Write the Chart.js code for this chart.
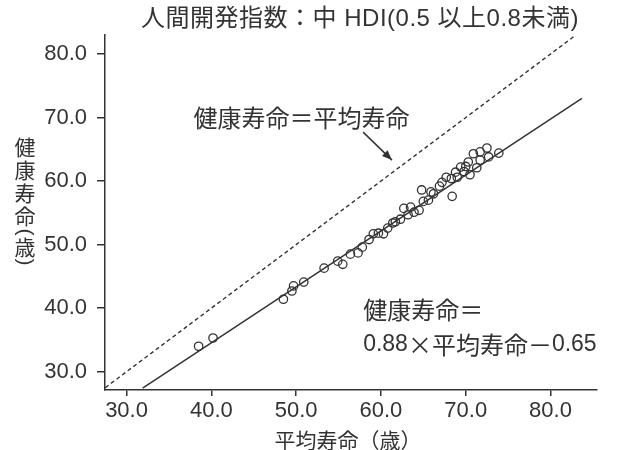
<!DOCTYPE html>
<html>
<head>
<meta charset="utf-8">
<script src="https://cdn.jsdelivr.net/npm/chart.js@4.4.0/dist/chart.umd.min.js"></script>
<style>
  html, body { margin: 0; padding: 0; background: #fff; }
  #wrap { width: 622px; height: 450px; }
</style>
</head>
<body>
<div id="wrap"><canvas id="c" width="622" height="450"></canvas></div>
<script>
// Countries with medium HDI: average life expectancy vs healthy life expectancy (years)
const lifeExpectancy = [
  38.5, 40.2, 48.5, 49.5, 49.7, 50.9, 53.3, 54.9, 55.5, 56.4,
  57.3, 57.8, 59.1, 59.7, 60.3, 61.4, 61.7, 62.7, 63.2, 63.5,
  63.9, 64.5, 64.8, 65.6, 65.9, 66.9, 67.7, 68.4, 68.8, 69.4,
  70.3, 70.5, 70.9, 71.3, 71.7, 71.7, 72.5, 72.7, 73.9, 67.2,
  68.3, 69.0, 69.8, 70.0, 66.2, 65.0, 62.3, 60.8, 58.6
];
const healthyLifeExpectancy = [
  34.0, 35.3, 41.4, 42.7, 43.5, 44.1, 46.3, 47.4, 46.9, 48.5,
  48.7, 49.6, 51.7, 51.8, 51.7, 53.4, 53.6, 55.7, 54.7, 55.9,
  55.1, 55.4, 58.6, 57.0, 58.3, 59.2, 60.6, 57.6, 61.4, 62.2,
  63.0, 61.0, 64.3, 62.1, 64.6, 63.3, 65.2, 63.8, 64.4, 59.8,
  60.4, 60.6, 61.5, 62.3, 58.0, 56.8, 54.0, 52.6, 50.8
];

const xTicks = [30, 40, 50, 60, 70, 80];
const yTicks = [30, 40, 50, 60, 70, 80];

// Regression: healthy = 0.88 × average − 0.65
const fitSlope = 0.88;
const fitIntercept = -0.65;
const fitRange = [31.9, 83.7];
// Reference line: healthy = average
const identityRange = [27.5, 83.0];

const titleText = '人間開発指数：中 HDI(0.5 以上0.8未満)';
const xTitle = '平均寿命（歳）';
const yTitleWord = ['健', '康', '寿', '命'];
const yTitleUnit = '歳';
const identityLabel = '健康寿命＝平均寿命';
const fitLabelLine1 = '健康寿命＝';

const INK = '#333333';
const LATIN = '"Liberation Sans", "Noto Sans CJK JP", sans-serif';
const CJK = '"Noto Sans CJK JP", sans-serif';

const scatterData = lifeExpectancy.map((x, i) => ({ x, y: healthyLifeExpectancy[i] }));
const fitData = fitRange.map(x => ({ x, y: fitSlope * x + fitIntercept }));
const identityData = identityRange.map(x => ({ x, y: x }));

function drawRuns(ctx, runs, x, y) {
  let cx = x;
  runs.forEach(r => {
    ctx.font = r.f;
    ctx.fillText(r.t, cx, y);
    cx += ctx.measureText(r.t).width;
  });
}

// a parenthesis turned sideways for vertical text
function drawTurned(ctx, ch, x, y) {
  ctx.save();
  ctx.translate(x, y);
  ctx.rotate(Math.PI / 2);
  ctx.fillText(ch, 0, 0);
  ctx.restore();
}

const textPlugin = {
  id: 'texts',
  afterDraw(chart) {
    const ctx = chart.ctx;
    const xs = chart.scales.x, ys = chart.scales.y;
    const area = chart.chartArea;
    ctx.save();
    ctx.fillStyle = INK;
    ctx.strokeStyle = INK;

    // title
    ctx.font = '24px ' + LATIN;
    ctx.letterSpacing = '0.5px';
    ctx.textAlign = 'center';
    ctx.textBaseline = 'middle';
    ctx.fillText(titleText, 360, 19);
    ctx.letterSpacing = '0px';

    // x axis title
    ctx.font = '21px ' + CJK;
    ctx.fillText(xTitle, (area.left + area.right) / 2 - 3, 440);

    // y axis title, stacked vertically
    ctx.font = '21px ' + CJK;
    const yPos = [147, 170, 193, 216];
    yTitleWord.forEach((ch, i) => ctx.fillText(ch, 25, yPos[i]));
    ctx.fillText(yTitleUnit, 25, 247);
    ctx.font = '21px ' + LATIN;
    drawTurned(ctx, '(', 25, 232);
    drawTurned(ctx, ')', 25, 262);

    // identity-line label and arrow
    ctx.textAlign = 'left';
    ctx.font = '24px ' + CJK;
    ctx.fillText(identityLabel, xs.getPixelForValue(37.9), ys.getPixelForValue(70.0));

    const ax0 = xs.getPixelForValue(57.9), ay0 = ys.getPixelForValue(67.7);
    const ax1 = xs.getPixelForValue(61.3), ay1 = ys.getPixelForValue(63.3);
    ctx.lineWidth = 1.5;
    ctx.beginPath();
    ctx.moveTo(ax0, ay0);
    ctx.lineTo(ax1, ay1);
    ctx.stroke();
    const ang = Math.atan2(ay1 - ay0, ax1 - ax0);
    const hl = 10, hw = 4;
    ctx.beginPath();
    ctx.moveTo(ax1, ay1);
    ctx.lineTo(ax1 - hl * Math.cos(ang) + hw * Math.sin(ang), ay1 - hl * Math.sin(ang) - hw * Math.cos(ang));
    ctx.lineTo(ax1 - hl * Math.cos(ang) - hw * Math.sin(ang), ay1 - hl * Math.sin(ang) + hw * Math.cos(ang));
    ctx.closePath();
    ctx.fill();

    // regression label
    const lx = xs.getPixelForValue(57.9);
    ctx.font = '24px ' + CJK;
    ctx.fillText(fitLabelLine1, lx, ys.getPixelForValue(39.7));
    drawRuns(ctx, [
      { t: fitSlope.toFixed(2), f: '23px ' + LATIN },
      { t: '×平均寿命－', f: '24px ' + CJK },
      { t: Math.abs(fitIntercept).toFixed(2), f: '23px ' + LATIN }
    ], lx, ys.getPixelForValue(34.2));

    ctx.restore();
  }
};

const tickFont = { family: LATIN, size: 22 };

new Chart(document.getElementById('c'), {
  type: 'scatter',
  data: {
    datasets: [
      {
        type: 'line',
        data: identityData,
        borderColor: INK,
        borderWidth: 1.4,
        borderDash: [4, 3],
        pointRadius: 0,
        fill: false
      },
      {
        type: 'line',
        data: fitData,
        borderColor: INK,
        borderWidth: 1.5,
        pointRadius: 0,
        fill: false
      },
      {
        type: 'scatter',
        data: scatterData,
        pointStyle: 'circle',
        pointRadius: 4.2,
        borderWidth: 1.3,
        borderColor: INK,
        backgroundColor: 'rgba(0,0,0,0)'
      }
    ]
  },
  options: {
    responsive: false,
    animation: false,
    devicePixelRatio: 1,
    layout: { padding: { left: 0, top: 35, right: 25, bottom: 0 } },
    plugins: { legend: { display: false }, tooltip: { enabled: false }, title: { display: false } },
    scales: {
      x: {
        type: 'linear',
        min: 27.46,
        max: 85.48,
        afterBuildTicks: s => { s.ticks = xTicks.map(v => ({ value: v })); },
        afterFit: s => { s.height = 60; },
        ticks: {
          callback: v => v.toFixed(1),
          font: tickFont,
          color: INK,
          padding: 2,
          maxRotation: 0,
          autoSkip: false
        },
        grid: { drawOnChartArea: false, drawTicks: true, tickLength: 6, color: INK, lineWidth: 1.5 },
        border: { display: true, color: INK, width: 1.5 }
      },
      y: {
        type: 'linear',
        min: 27.12,
        max: 82.99,
        afterBuildTicks: s => { s.ticks = yTicks.map(v => ({ value: v })); },
        afterFit: s => { s.width = 105; },
        ticks: {
          callback: v => v.toFixed(1),
          font: tickFont,
          color: INK,
          padding: 10,
          autoSkip: false
        },
        grid: { drawOnChartArea: false, drawTicks: true, tickLength: 8, color: INK, lineWidth: 1.5 },
        border: { display: true, color: INK, width: 1.5 }
      }
    }
  },
  plugins: [textPlugin]
});
</script>
</body>
</html>
